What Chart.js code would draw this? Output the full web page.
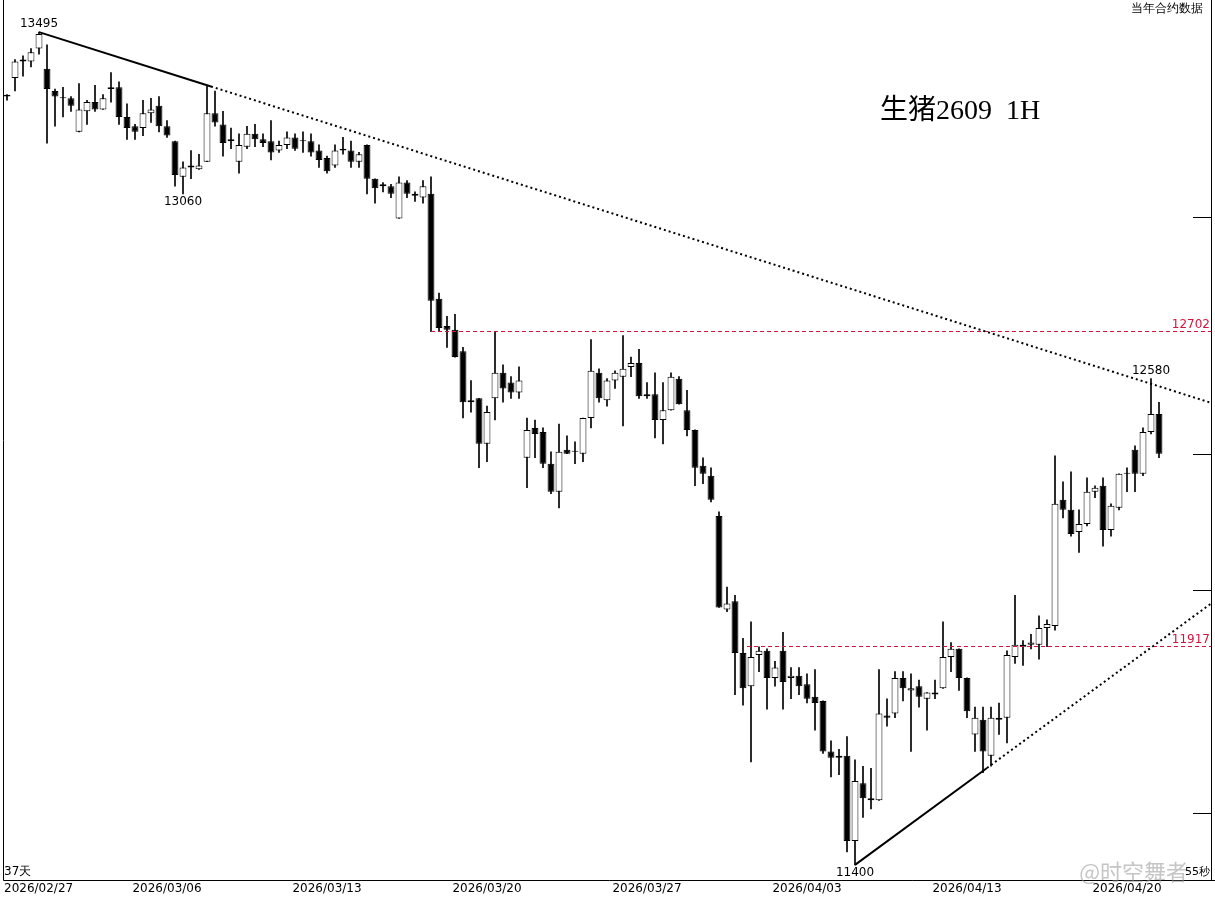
<!DOCTYPE html>
<html>
<head>
<meta charset="utf-8">
<script src="https://cdn.jsdelivr.net/npm/chart.js@4/dist/chart.umd.min.js"></script>
<style>
  body { margin: 0; background: #fff; }
  #wrap { width: 1215px; height: 900px; }
</style>
</head>
<body>
<div id="wrap"><canvas id="kline" width="1215" height="900"></canvas></div>
<script>
// hourly bars
const opens = [13320,13370,13420,13415,13450,13395,13335,13315,13315,13225,13280,13305,13285,13345,13345,13265,13240,13235,13275,13295,
  13240,13200,13105,13130,13125,13145,13275,13245,13200,13145,13185,13220,13205,13200,13175,13190,13210,13200,13200,13175,
  13155,13135,13180,13175,13145,13190,13100,13080,13080,12995,13090,13060,13050,13060,12785,12715,12705,12650,12520,12530,
  12415,12530,12595,12570,12545,12380,12455,12445,12365,12295,12400,12395,12390,12480,12595,12525,12575,12585,12610,12620,
  12535,12540,12475,12500,12580,12500,12450,12360,12335,12235,12005,12025,11900,11820,11895,11905,11840,11905,11840,11845,
  11825,11795,11785,11665,11650,11655,11455,11590,11555,11550,11750,11755,11840,11810,11820,11790,11800,11815,11890,11910,
  11840,11705,11740,11655,11740,11745,11890,11915,11920,11920,11960,11965,12275,12250,12195,12215,12295,12310,12200,12255,
  12340,12400,12340,12445,12490];
const highs = [13325,13420,13430,13450,13495,13460,13340,13345,13320,13355,13310,13350,13325,13385,13360,13300,13245,13310,13315,13320,
  13255,13200,13145,13175,13165,13350,13335,13280,13235,13220,13240,13245,13220,13255,13200,13225,13220,13225,13220,13190,
  13160,13190,13210,13200,13170,13190,13100,13090,13085,13105,13095,13065,13095,13105,12800,12740,12745,12660,12575,12530,
  12510,12700,12615,12585,12610,12480,12475,12455,12395,12465,12435,12420,12480,12680,12605,12580,12600,12690,12635,12655,
  12570,12595,12570,12595,12585,12550,12450,12380,12355,12245,12060,12040,11935,11975,11915,11910,11880,11950,11865,11865,
  11850,11860,11785,11690,11670,11700,11645,11630,11625,11860,11790,11855,11855,11850,11835,11805,11835,11975,11925,11910,
  11840,11770,11770,11770,11780,11905,12040,11930,11945,11990,11980,12385,12320,12345,12250,12330,12310,12330,12265,12340,
  12355,12410,12455,12580,12520];
const lows = [13310,13335,13375,13400,13435,13195,13240,13265,13280,13225,13245,13280,13285,13305,13245,13205,13205,13215,13250,13225,
  13210,13080,13060,13100,13125,13145,13240,13160,13180,13115,13180,13185,13185,13150,13170,13180,13175,13170,13160,13130,
  13115,13130,13165,13130,13130,13060,13035,13065,13050,12995,13050,13040,13035,12700,12700,12660,12635,12480,12495,12355,
  12370,12475,12520,12530,12530,12305,12380,12355,12290,12255,12390,12365,12370,12455,12520,12510,12555,12460,12585,12530,
  12530,12430,12415,12500,12515,12435,12310,12315,12270,12010,12000,11800,11775,11640,11855,11765,11820,11765,11790,11800,
  11780,11715,11660,11605,11610,11430,11400,11510,11530,11550,11725,11745,11785,11665,11770,11715,11790,11815,11855,11810,
  11745,11665,11615,11630,11705,11685,11875,11870,11910,11885,11915,11955,12230,12185,12145,12210,12280,12160,12185,12250,
  12295,12295,12335,12440,12380];
const closes = [13325,13415,13415,13440,13490,13340,13320,13315,13295,13285,13305,13285,13315,13340,13265,13235,13225,13275,13285,13240,
  13215,13110,13130,13135,13135,13275,13250,13195,13205,13190,13220,13205,13195,13170,13190,13210,13180,13200,13170,13150,
  13120,13175,13175,13145,13165,13100,13075,13085,13060,13090,13060,13055,13080,12780,12710,12705,12635,12520,12525,12415,
  12495,12595,12555,12545,12575,12450,12440,12365,12295,12395,12390,12395,12480,12600,12530,12575,12595,12605,12620,12535,
  12540,12475,12500,12585,12515,12450,12355,12340,12275,12010,12020,11900,11815,11890,11905,11840,11865,11830,11845,11820,
  11790,11780,11665,11650,11655,11455,11595,11555,11550,11755,11745,11840,11815,11815,11795,11805,11805,11890,11910,11840,
  11760,11745,11665,11745,11745,11895,11920,11920,11925,11960,11970,12265,12250,12190,12215,12295,12305,12200,12260,12340,
  12340,12340,12445,12490,12390];

const dateLabels = ['2026/02/27', '2026/03/06', '2026/03/13', '2026/03/20', '2026/03/27', '2026/04/03', '2026/04/13', '2026/04/20'];
const dateIndexes = [0, 20, 40, 60, 80, 100, 120, 140];
const slotCount = 151;

const supportLevels = [12702, 11917];
const supportStart = [53, 92.5];
const peakMarks = [
  { index: 4, price: 13495, above: true },
  { index: 22, price: 13060, above: false },
  { index: 106, price: 11400, above: false },
  { index: 143, price: 12580, above: true }
];
// trend lines: [startIndex, startPrice, endIndex, endPrice, solidUntil]
const downTrend = [4, 13495, 150.6, 12518, 25.5];
const upTrend = [106, 11400, 150.6, 12021, 122.5];
const rightTicks = [13000, 12390, 12053, 11520];

const labels = Array.from({ length: slotCount }, (_, i) => String(i));
const bodies = opens.map((o, i) => [o, closes[i]]);
const wicks = lows.map((l, i) => [l, highs[i]]);
const bodyFill = opens.map((o, i) => (closes[i] >= o ? '#ffffff' : '#000000'));

const overlay = {
  id: 'overlay',
  afterDatasetsDraw(chart) {
    const { ctx, chartArea: area, scales: { x, y } } = chart;
    const x0 = x.getPixelForValue(0);
    const step = x.getPixelForValue(1) - x0;
    const px = (i) => x0 + step * i;

    ctx.save();

    // frame
    ctx.strokeStyle = '#000';
    ctx.lineWidth = 1;
    ctx.beginPath();
    ctx.moveTo(area.left + 0.5, 0);
    ctx.lineTo(area.left + 0.5, area.bottom + 0.5);
    ctx.lineTo(1215, area.bottom + 0.5);
    ctx.moveTo(area.right + 0.5, 0);
    ctx.lineTo(area.right + 0.5, area.bottom);
    ctx.stroke();

    rightTicks.forEach((p) => {
      const ty = Math.round(y.getPixelForValue(p)) + 0.5;
      ctx.beginPath();
      ctx.moveTo(area.right - 18, ty);
      ctx.lineTo(area.right, ty);
      ctx.stroke();
    });

    // support / resistance lines
    ctx.strokeStyle = '#d4143c';
    ctx.setLineDash([4, 3]);
    ctx.font = '12px "DejaVu Sans", sans-serif';
    ctx.fillStyle = '#d4143c';
    ctx.textAlign = 'right';
    ctx.textBaseline = 'bottom';
    supportLevels.forEach((p, k) => {
      const ly = Math.round(y.getPixelForValue(p)) + 0.5;
      ctx.beginPath();
      ctx.moveTo(px(supportStart[k]), ly);
      ctx.lineTo(area.right, ly);
      ctx.stroke();
      ctx.fillText(String(p), area.right - 1, ly - 1);
    });
    ctx.setLineDash([]);

    // trend lines
    const drawTrend = (t) => {
      const xa = px(t[0]), ya = y.getPixelForValue(t[1]);
      const xb = px(t[2]), yb = y.getPixelForValue(t[3]);
      const xs = px(t[4]);
      const ys = ya + (yb - ya) * (xs - xa) / (xb - xa);
      ctx.strokeStyle = '#000';
      ctx.lineWidth = 2;
      ctx.beginPath();
      ctx.moveTo(xa, ya);
      ctx.lineTo(xs, ys);
      ctx.stroke();
      ctx.setLineDash([2, 3]);
      ctx.beginPath();
      ctx.moveTo(xs, ys);
      ctx.lineTo(xb, yb);
      ctx.stroke();
      ctx.setLineDash([]);
    };
    drawTrend(downTrend);
    drawTrend(upTrend);

    // peak / trough labels
    ctx.fillStyle = '#000';
    ctx.textAlign = 'center';
    ctx.font = '12px "DejaVu Sans", sans-serif';
    peakMarks.forEach((m) => {
      const my = y.getPixelForValue(m.price);
      ctx.textBaseline = m.above ? 'bottom' : 'top';
      ctx.fillText(String(m.price), px(m.index), m.above ? my - 2 : my + 2);
    });

    // date axis
    ctx.textBaseline = 'top';
    dateLabels.forEach((d, k) => {
      const dx = px(dateIndexes[k]);
      ctx.textAlign = k === 0 ? 'left' : 'center';
      ctx.fillText(d, k === 0 ? area.left + 1 : dx, area.bottom + 3);
    });

    ctx.textAlign = 'left';
    ctx.textBaseline = 'bottom';
    ctx.fillText('37天', area.left + 1, area.bottom - 2);

    ctx.textAlign = 'right';
    ctx.textBaseline = 'top';
    ctx.fillText('当年合约数据', area.right - 8, 3);

    // title
    ctx.textAlign = 'left';
    ctx.textBaseline = 'middle';
    ctx.font = '28px "Liberation Serif", "Noto Sans CJK SC", serif';
    ctx.fillText('生猪2609  1H', 880, 112);

    // watermark
    ctx.font = '22px "Noto Sans CJK SC", sans-serif';
    ctx.fillStyle = 'rgba(150,150,150,0.55)';
    ctx.textAlign = 'right';
    ctx.textBaseline = 'middle';
    ctx.fillText('@时空舞者', 1188, 872);
    ctx.font = '11px "DejaVu Sans", sans-serif';
    ctx.fillStyle = '#000';
    ctx.fillText('55秒', 1210, 872);

    ctx.restore();
  }
};

new Chart(document.getElementById('kline'), {
  type: 'bar',
  data: {
    labels: labels,
    datasets: [
      {
        label: 'wick',
        data: wicks,
        backgroundColor: '#000',
        barThickness: 1,
        grouped: false,
        order: 2
      },
      {
        label: 'body',
        data: bodies,
        backgroundColor: bodyFill,
        borderColor: '#000',
        borderWidth: 1,
        borderSkipped: false,
        minBarLength: 1,
        categoryPercentage: 1,
        barPercentage: 0.86,
        grouped: false,
        order: 1
      }
    ]
  },
  options: {
    responsive: false,
    animation: false,
    layout: { padding: { left: 3, right: 4, top: 0, bottom: 20 } },
    scales: {
      x: { display: false, offset: true, grid: { display: false } },
      y: { type: 'logarithmic', display: false, min: 11365, max: 13583 }
    },
    plugins: {
      legend: { display: false },
      tooltip: { enabled: false }
    }
  },
  plugins: [overlay]
});
</script>
</body>
</html>
